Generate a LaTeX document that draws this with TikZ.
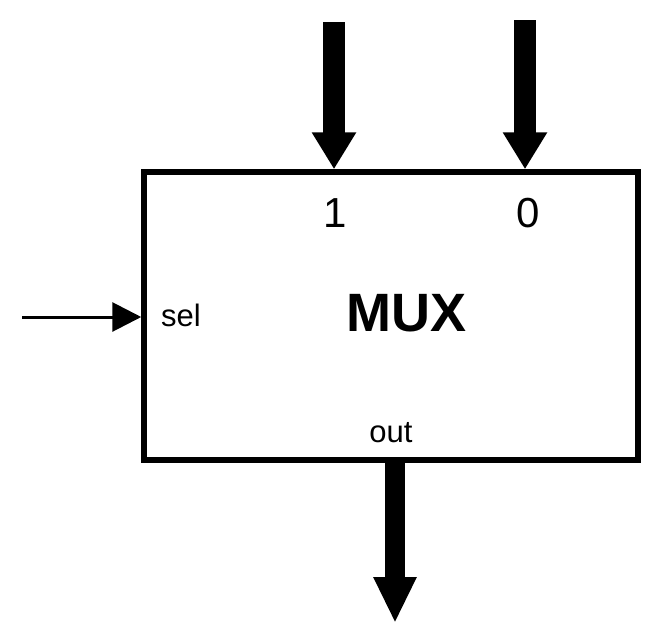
\documentclass[tikz,border=0pt]{standalone}
\usepackage{fontspec}
\setmainfont{Liberation Sans}
\usetikzlibrary{arrows.meta}

\begin{document}
\begin{tikzpicture}[x=1pt,y=-1pt,
  busarrow/.style={line width=22pt,-{Triangle[width=42pt,length=37pt]}},
  outarrow/.style={line width=20pt,-{Triangle[width=40pt,length=46pt]}},
  selarrow/.style={line width=3pt,-{Triangle[width=29pt,length=29pt]}},
  portlabel/.style={inner sep=0pt,font=\fontsize{31}{31}\selectfont},
  inlabel/.style={inner sep=0pt,font=\fontsize{42}{42}\selectfont},
]
\useasboundingbox (0,0) rectangle (661,637);

% multiplexer block
\node[draw,line width=5.5pt,minimum width=494pt,minimum height=288pt,inner sep=0pt]
  (mux) at (391,316) {};
\node[inner sep=0pt,font=\fontsize{54}{54}\selectfont\bfseries] (title) at (406.5,313) {MUX};

% data inputs
\coordinate (in1) at (334,22);
\coordinate (in0) at (525,20);
\draw[busarrow] (in1) -- (in1 |- mux.north);
\draw[busarrow] (in0) -- (in0 |- mux.north);
\node[inlabel] (l1) at (335.5,213) {1};
\node[inlabel] (l0) at (528.5,213) {0};

% select input
\coordinate (sel) at (22,317);
\draw[selarrow] (sel) -- (sel -| mux.west);
\node[portlabel,anchor=base] (lsel) at (181,326) {sel};

% output
\coordinate (outend) at (395,623);
\draw[outarrow] (outend |- mux.south) -- (outend);
\node[portlabel,anchor=base] (lout) at (391,442.5) {out};
\end{tikzpicture}
\end{document}
